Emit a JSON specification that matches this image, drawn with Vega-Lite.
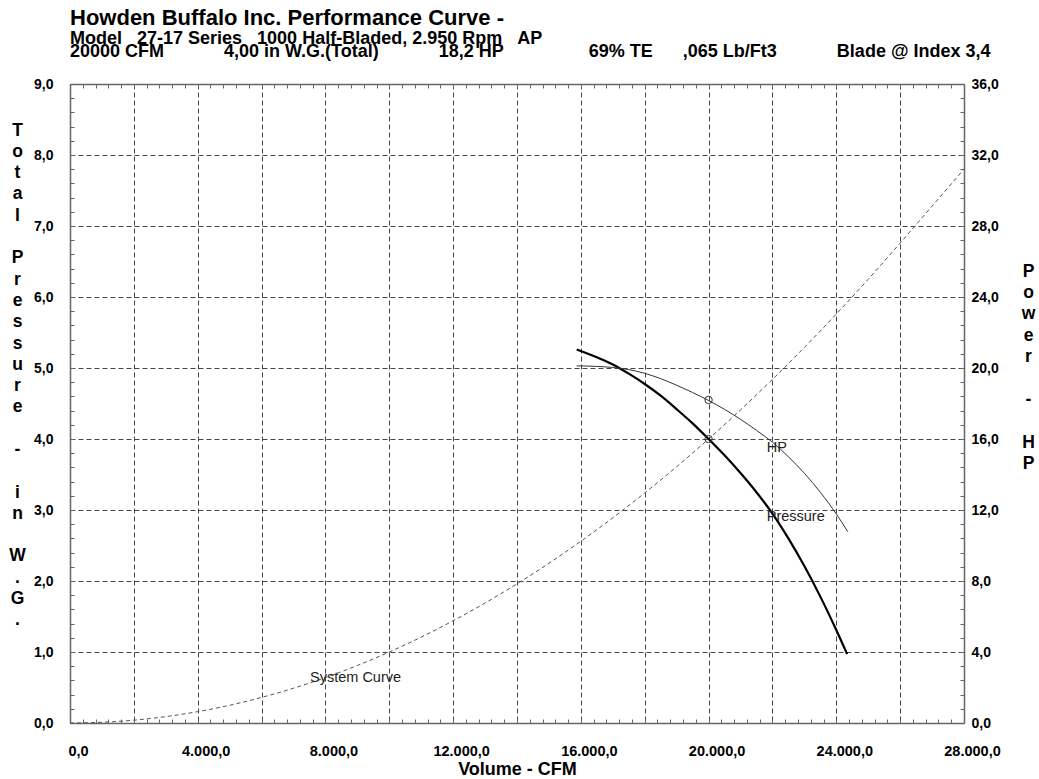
{
  "$schema": "https://vega.github.io/schema/vega-lite/v6.json",
  "width": 894,
  "height": 639,
  "autosize": {"type": "none"},
  "padding": {"left": 70, "top": 84, "right": 75, "bottom": 56},
  "background": "white",
  "config": {
    "locale": {"number": {"decimal": ",", "thousands": ".", "grouping": [3], "currency": ["", ""]}},
    "view": {"stroke": null},
    "font": "Liberation Sans",
    "axis": {
      "labelFont": "Liberation Sans",
      "labelFontWeight": "bold",
      "labelFontSize": 14,
      "labelColor": "#000",
      "labelFlush": false,
      "labelOverlap": false,
      "titleFont": "Liberation Sans",
      "titleFontWeight": "bold",
      "titleFontSize": 17.5,
      "titleColor": "#000",
      "domainColor": "#666",
      "domainWidth": 1.5,
      "tickColor": "#666",
      "tickWidth": 1,
      "tickSize": -4,
      "gridColor": "#444",
      "gridWidth": 1,
      "gridDash": [5, 3]
    }
  },
  "title": {
    "text": "Howden Buffalo Inc. Performance Curve -",
    "subtitle": [
      "Model\u00a0\u00a0\u00a027-17 Series\u00a0\u00a0\u00a01000 Half-Bladed, 2.950 Rpm\u00a0\u00a0\u00a0AP",
      "20000 CFM\u00a0\u00a0\u00a0\u00a0\u00a0\u00a0\u00a0\u00a0\u00a0\u00a0\u00a0\u00a04,00 in W.G.(Total)\u00a0\u00a0\u00a0\u00a0\u00a0\u00a0\u00a0\u00a0\u00a0\u00a0\u00a0\u00a018,2 HP\u00a0\u00a0\u00a0\u00a0\u00a0\u00a0\u00a0\u00a0\u00a0\u00a0\u00a0\u00a0\u00a0\u00a0\u00a0\u00a0\u00a069% TE\u00a0\u00a0\u00a0\u00a0\u00a0\u00a0,065 Lb/Ft3\u00a0\u00a0\u00a0\u00a0\u00a0\u00a0\u00a0\u00a0\u00a0\u00a0\u00a0\u00a0Blade @ Index 3,4"
    ],
    "anchor": "start",
    "frame": "group",
    "font": "Liberation Sans",
    "fontSize": 22,
    "fontWeight": "bold",
    "color": "#000",
    "subtitleFont": "Liberation Sans",
    "subtitleFontSize": 18,
    "subtitleFontWeight": "bold",
    "subtitleColor": "#000",
    "subtitlePadding": 0,
    "subtitleLineHeight": 13.5,
    "offset": 15
  },
  "datasets": {
    "system": [
      {"cfm": 0, "p": 0}, {"cfm": 1000, "p": 0.01}, {"cfm": 2000, "p": 0.04}, {"cfm": 3000, "p": 0.09},
      {"cfm": 4000, "p": 0.16}, {"cfm": 5000, "p": 0.25}, {"cfm": 6000, "p": 0.36}, {"cfm": 7000, "p": 0.49},
      {"cfm": 8000, "p": 0.64}, {"cfm": 9000, "p": 0.81}, {"cfm": 10000, "p": 1.0}, {"cfm": 11000, "p": 1.21},
      {"cfm": 12000, "p": 1.44}, {"cfm": 13000, "p": 1.69}, {"cfm": 14000, "p": 1.96}, {"cfm": 15000, "p": 2.25},
      {"cfm": 16000, "p": 2.56}, {"cfm": 17000, "p": 2.89}, {"cfm": 18000, "p": 3.24}, {"cfm": 19000, "p": 3.61},
      {"cfm": 20000, "p": 4.0}, {"cfm": 21000, "p": 4.41}, {"cfm": 22000, "p": 4.84}, {"cfm": 23000, "p": 5.29},
      {"cfm": 24000, "p": 5.76}, {"cfm": 25000, "p": 6.25}, {"cfm": 26000, "p": 6.76}, {"cfm": 27000, "p": 7.28},
      {"cfm": 28000, "p": 7.8}
    ],
    "pressure": [
      {"cfm": 15870, "p": 5.26}, {"cfm": 16500, "p": 5.15}, {"cfm": 17000, "p": 5.05}, {"cfm": 17500, "p": 4.92},
      {"cfm": 18000, "p": 4.775}, {"cfm": 18500, "p": 4.61}, {"cfm": 19000, "p": 4.42}, {"cfm": 19500, "p": 4.22},
      {"cfm": 20000, "p": 4.0}, {"cfm": 20500, "p": 3.77}, {"cfm": 21000, "p": 3.52}, {"cfm": 21500, "p": 3.25},
      {"cfm": 22000, "p": 2.95}, {"cfm": 22500, "p": 2.6}, {"cfm": 23000, "p": 2.21}, {"cfm": 23500, "p": 1.78},
      {"cfm": 24000, "p": 1.31}, {"cfm": 24340, "p": 0.97}
    ],
    "power": [
      {"cfm": 15870, "hp": 20.12}, {"cfm": 16500, "hp": 20.09}, {"cfm": 17000, "hp": 20.03}, {"cfm": 17500, "hp": 19.91},
      {"cfm": 18000, "hp": 19.7}, {"cfm": 18500, "hp": 19.4}, {"cfm": 19000, "hp": 19.03}, {"cfm": 19500, "hp": 18.62},
      {"cfm": 20000, "hp": 18.17}, {"cfm": 20500, "hp": 17.67}, {"cfm": 21000, "hp": 17.11}, {"cfm": 21500, "hp": 16.49},
      {"cfm": 22000, "hp": 15.82}, {"cfm": 22500, "hp": 15.0}, {"cfm": 23000, "hp": 14.07}, {"cfm": 23500, "hp": 13.0},
      {"cfm": 24000, "hp": 11.78}, {"cfm": 24360, "hp": 10.78}
    ],
    "operating": [
      {"cfm": 20000, "p": 4.0, "hp": 18.2}
    ]
  },
  "layer": [
    {
      "data": {"name": "system"},
      "mark": {"type": "line", "interpolate": "monotone", "stroke": "#555", "strokeWidth": 1, "strokeDash": [4, 3]},
      "encoding": {
        "x": {
          "field": "cfm", "type": "quantitative",
          "scale": {"domain": [0, 28000], "nice": false, "zero": false},
          "axis": {
            "orient": "bottom",
            "values": [0,400,800,1200,1600,2000,2400,2800,3200,3600,4000,4400,4800,5200,5600,6000,6400,6800,7200,7600,8000,8400,8800,9200,9600,10000,10400,10800,11200,11600,12000,12400,12800,13200,13600,14000,14400,14800,15200,15600,16000,16400,16800,17200,17600,18000,18400,18800,19200,19600,20000,20400,20800,21200,21600,22000,22400,22800,23200,23600,24000,24400,24800,25200,25600,26000,26400,26800,27200,27600,28000],
            "format": ",.1f",
            "labelExpr": "datum.value % 4000 === 0 ? datum.label : ''",
            "labelAlign": "center",
            "labelBaseline": "top",
            "labelFontSize": 14.5,
            "labelOffset": 8,
            "labelPadding": 25,
            "grid": true,
            "gridOpacity": {"condition": {"test": "datum.value % 2000 === 0", "value": 1}, "value": 0},
            "title": "Volume - CFM",
            "titleFontSize": 18,
            "titleBaseline": "middle",
            "titleY": 46
          }
        },
        "y": {
          "field": "p", "type": "quantitative",
          "scale": {"domain": [0, 9], "nice": false, "zero": false},
          "axis": {
            "orient": "left",
            "values": [0,0.2,0.4,0.6,0.8,1,1.2,1.4,1.6,1.8,2,2.2,2.4,2.6,2.8,3,3.2,3.4,3.6,3.8,4,4.2,4.4,4.6,4.8,5,5.2,5.4,5.6,5.8,6,6.2,6.4,6.6,6.8,7,7.2,7.4,7.6,7.8,8,8.2,8.4,8.6,8.8,9],
            "format": ".1f",
            "labelExpr": "abs(datum.value - round(datum.value)) < 0.001 ? datum.label : ''",
            "labelPadding": 21,
            "grid": true,
            "gridOpacity": {"condition": {"test": "abs(datum.value - round(datum.value)) < 0.001", "value": 1}, "value": 0},
            "title": ["T","o","t","a","l","\u2800","P","r","e","s","s","u","r","e","\u2800","-","\u2800","i","n","\u2800","W",".","G","."],
            "titleAngle": 0,
            "titleAlign": "center",
            "titleBaseline": "middle",
            "titleLineHeight": 21.3,
            "titleX": -53,
            "titleY": 46
          }
        }
      }
    },
    {
      "data": {"name": "pressure"},
      "mark": {"type": "line", "interpolate": "monotone", "stroke": "#000", "strokeWidth": 2.2},
      "encoding": {
        "x": {
          "field": "cfm", "type": "quantitative",
          "scale": {"domain": [0, 28000], "nice": false, "zero": false},
          "axis": {
            "orient": "top",
            "values": [0,400,800,1200,1600,2000,2400,2800,3200,3600,4000,4400,4800,5200,5600,6000,6400,6800,7200,7600,8000,8400,8800,9200,9600,10000,10400,10800,11200,11600,12000,12400,12800,13200,13600,14000,14400,14800,15200,15600,16000,16400,16800,17200,17600,18000,18400,18800,19200,19600,20000,20400,20800,21200,21600,22000,22400,22800,23200,23600,24000,24400,24800,25200,25600,26000,26400,26800,27200,27600,28000],
            "labels": false,
            "grid": false,
            "title": null
          }
        },
        "y": {"field": "p", "type": "quantitative", "scale": {"domain": [0, 9], "nice": false, "zero": false}, "axis": null}
      }
    },
    {
      "data": {"name": "power"},
      "mark": {"type": "line", "interpolate": "monotone", "stroke": "#333", "strokeWidth": 1},
      "encoding": {
        "x": {"field": "cfm", "type": "quantitative", "scale": {"domain": [0, 28000], "nice": false, "zero": false}, "axis": null},
        "y": {
          "field": "hp", "type": "quantitative",
          "scale": {"domain": [0, 36], "nice": false, "zero": false},
          "axis": {
            "orient": "right",
            "values": [0,0.8,1.6,2.4,3.2,4,4.8,5.6,6.4,7.2,8,8.8,9.6,10.4,11.2,12,12.8,13.6,14.4,15.2,16,16.8,17.6,18.4,19.2,20,20.8,21.6,22.4,23.2,24,24.8,25.6,26.4,27.2,28,28.8,29.6,30.4,31.2,32,32.8,33.6,34.4,35.2,36],
            "format": ".1f",
            "labelExpr": "abs(datum.value / 4 - round(datum.value / 4)) < 0.001 ? datum.label : ''",
            "labelPadding": 11,
            "grid": false,
            "title": ["P","o","w","e","r","\u2800","-","\u2800","H","P"],
            "titleAngle": 0,
            "titleAlign": "center",
            "titleBaseline": "middle",
            "titleLineHeight": 21.4,
            "titleX": 64,
            "titleY": 187
          }
        }
      }
    },
    {
      "data": {"name": "operating"},
      "mark": {"type": "point", "shape": "circle", "filled": false, "size": 55, "stroke": "#333", "strokeWidth": 1, "opacity": 1},
      "encoding": {
        "x": {"field": "cfm", "type": "quantitative", "scale": {"domain": [0, 28000], "nice": false, "zero": false}, "axis": null},
        "y": {"field": "p", "type": "quantitative", "scale": {"domain": [0, 9], "nice": false, "zero": false}, "axis": null}
      }
    },
    {
      "data": {"name": "operating"},
      "mark": {"type": "point", "shape": "circle", "filled": false, "size": 55, "stroke": "#333", "strokeWidth": 1, "opacity": 1},
      "encoding": {
        "x": {"field": "cfm", "type": "quantitative", "scale": {"domain": [0, 28000], "nice": false, "zero": false}, "axis": null},
        "y": {"field": "hp", "type": "quantitative", "scale": {"domain": [0, 36], "nice": false, "zero": false}, "axis": null}
      }
    },
    {
      "data": {"values": [{}]},
      "mark": {"type": "text", "align": "left", "baseline": "middle", "font": "Liberation Sans", "fontSize": 14.5, "color": "#222"},
      "encoding": {
        "x": {"datum": 21821, "type": "quantitative", "scale": {"domain": [0, 28000], "nice": false, "zero": false}, "axis": null},
        "y": {"datum": 3.87, "type": "quantitative", "scale": {"domain": [0, 9], "nice": false, "zero": false}, "axis": null},
        "text": {"value": "HP"}
      }
    },
    {
      "data": {"values": [{}]},
      "mark": {"type": "text", "align": "left", "baseline": "middle", "font": "Liberation Sans", "fontSize": 14.5, "color": "#222"},
      "encoding": {
        "x": {"datum": 21821, "type": "quantitative", "scale": {"domain": [0, 28000], "nice": false, "zero": false}, "axis": null},
        "y": {"datum": 2.9, "type": "quantitative", "scale": {"domain": [0, 9], "nice": false, "zero": false}, "axis": null},
        "text": {"value": "Pressure"}
      }
    },
    {
      "data": {"values": [{}]},
      "mark": {"type": "text", "align": "left", "baseline": "middle", "font": "Liberation Sans", "fontSize": 14.5, "color": "#222"},
      "encoding": {
        "x": {"datum": 7517, "type": "quantitative", "scale": {"domain": [0, 28000], "nice": false, "zero": false}, "axis": null},
        "y": {"datum": 0.64, "type": "quantitative", "scale": {"domain": [0, 9], "nice": false, "zero": false}, "axis": null},
        "text": {"value": "System Curve"}
      }
    }
  ],
  "resolve": {"scale": {"y": "independent"}, "axis": {"x": "independent", "y": "independent"}}
}
